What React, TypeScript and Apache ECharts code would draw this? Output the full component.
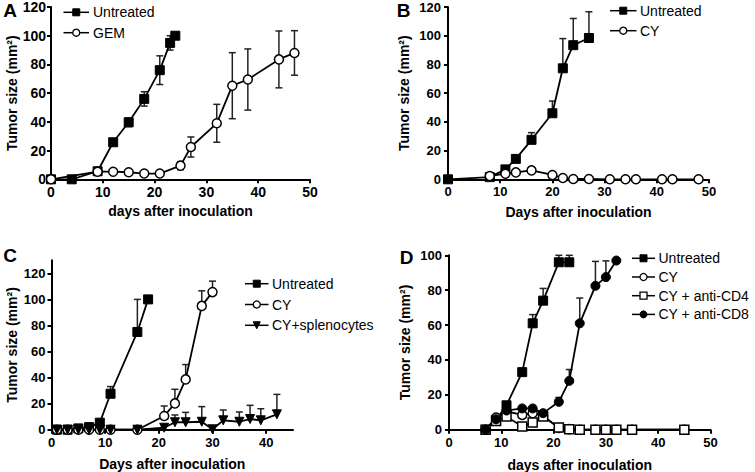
import React, { useEffect, useRef } from "react";
import * as echarts from "echarts";

// ---------- Panel A ----------
const aUntreatedDays = [0, 4, 9, 12, 15, 18, 21, 23, 24];
const aUntreatedVals = [0, 0, 5.6, 25.8, 39.7, 56, 76, 95, 100];
const aUntreatedErr = [0, 0, 0, 1, 3, 5, 10, 5, 0];
const aGemDays = [0, 9, 12, 15, 18, 21, 25, 27, 32, 35, 38, 44, 47];
const aGemVals = [0, 5.3, 5.3, 4.9, 4, 4, 9.5, 22.5, 39, 65.2, 69.5, 83.5, 88];
const aGemErr = [0, 0, 0, 0, 0, 0, 2.8, 7, 13.2, 23, 21.3, 19.8, 15.5];

// ---------- Panel B ----------
const bUntreatedDays = [0, 8, 11, 13, 16, 20, 22, 24, 27];
const bUntreatedVals = [0, 1.5, 6.9, 14.2, 27.5, 46, 77.3, 93.4, 98.4];
const bUntreatedErr = [0, 0, 0, 0, 5, 8.5, 20.7, 18.6, 18.3];
const bCyDays = [8, 11, 13, 16, 20, 22, 24, 27, 31, 34, 36, 41, 43, 48];
const bCyVals = [2.3, 3.9, 4.8, 6.2, 3, 0.9, 0.2, 0.2, 0, 0, 0, 0, 0, 0];

// ---------- Panel C ----------
const cUntreatedDays = [1, 3, 5, 7, 9, 11, 16, 18];
const cUntreatedVals = [0, 0, 1, 2, 5.4, 27.6, 75, 100];
const cUntreatedErr = [0, 0, 0, 0, 0, 5.5, 25, 0];
const cCyDays = [1, 3, 5, 7, 9, 11, 16, 21, 23, 25, 28, 30];
const cCyVals = [0, 0, 0, 0, 0, 0, 0, 10.5, 20.2, 38.6, 95, 105.6];
const cCyErr = [0, 0, 0, 0, 0, 0, 0, 7.7, 10.8, 11.4, 11.6, 8.4];
const cSplDays = [1, 3, 5, 7, 9, 11, 16, 21, 23, 25, 28, 30, 32, 35, 37, 39, 42];
const cSplVals = [0, 0, 0, 0, 0, 0, 0, 1.5, 5.7, 5.7, 6.1, 0.3, 7.2, 6.1, 8.2, 7.2, 11.8];
const cSplErr = [0, 0, 0, 0, 0, 0, 0, 0, 5.6, 7.6, 11.6, 0, 7.9, 7.5, 10.5, 8.9, 15.3];

// ---------- Panel D ----------
const dUntreatedDays = [7, 9, 11, 14, 16, 18, 21, 23];
const dUntreatedVals = [0, 5.5, 14, 33, 61, 74, 96, 96];
const dUntreatedErr = [0, 0, 0, 0, 5, 7, 4, 4];
const dCyDays = [7, 9, 11, 14, 16, 18, 21, 23, 25, 28, 30, 32, 35, 45];
const dCyVals = [0, 7, 10.5, 8.5, 9.5, 8, 1, 0.3, 0, 0, 0, 0, 0, 0];
const dCd4Days = [7, 9, 11, 14, 16, 18, 21, 23, 25, 28, 30, 32, 35, 45];
const dCd4Vals = [0, 5, 7.5, 1.8, 4.2, 7.5, 1.2, 0.2, 0, 0, 0, 0, 0, 0];
const dCd8Days = [7, 9, 11, 14, 16, 18, 21, 23, 25, 28, 30, 32];
const dCd8Vals = [0, 6, 11, 12.2, 12.2, 9.5, 16, 28, 61, 82.5, 87.5, 97];
const dCd8Err = [0, 0, 0, 0, 0, 0, 2.5, 6.5, 14.5, 14, 9.3, 0];

const legendA = ["Untreated", "GEM"];
const legendB = ["Untreated", "CY"];
const legendC = ["Untreated", "CY", "CY+splenocytes"];
const legendD = ["Untreated", "CY", "CY + anti-CD4", "CY + anti-CD8"];

const yTicks120 = [0, 20, 40, 60, 80, 100, 120];
const yTicks100 = [0, 20, 40, 60, 80, 100];
const xTicks50 = [0, 10, 20, 30, 40, 50];
const xTicks40 = [0, 10, 20, 30, 40];

const FONT = '"Liberation Sans", Arial, Helvetica, sans-serif';

const STYLES: Record<string, any> = {
  filledSquare: { symbol: "rect", itemStyle: { color: "#000", borderColor: "#000", borderWidth: 1 } },
  openCircle: { symbol: "circle", itemStyle: { color: "#fff", borderColor: "#000", borderWidth: 1.5 } },
  openSquare: { symbol: "rect", itemStyle: { color: "#fff", borderColor: "#000", borderWidth: 1.5 } },
  filledCircle: { symbol: "circle", itemStyle: { color: "#000", borderColor: "#000", borderWidth: 1 } },
  triDown: { symbol: "triangle", symbolRotate: 180, itemStyle: { color: "#000", borderColor: "#000", borderWidth: 1 } },
};

function lineSeries(name: string, idx: number, days: number[], vals: number[], style: string) {
  return {
    type: "line",
    name,
    xAxisIndex: idx,
    yAxisIndex: idx,
    data: days.map((d, i) => [d, vals[i]]),
    symbolSize: 9,
    ...STYLES[style],
    lineStyle: { color: "#000", width: 1.8 },
    z: 3,
    clip: false,
    emphasis: { disabled: true },
  };
}

function errSeries(idx: number, days: number[], vals: number[], errs: number[], both: boolean) {
  return {
    type: "custom",
    xAxisIndex: idx,
    yAxisIndex: idx,
    z: 1,
    silent: true,
    clip: false,
    data: days.map((d, i) => [d, vals[i], errs[i]]).filter((r) => r[2] > 0),
    encode: { x: 0, y: 1 },
    renderItem: (_p: any, api: any) => {
      const x = api.value(0);
      const y = api.value(1);
      const e = api.value(2);
      const top = api.coord([x, y + e]);
      const mid = api.coord([x, y]);
      const bot = api.coord([x, y - e]);
      const hw = 3.5;
      const st = { stroke: "#222", lineWidth: 1.5 };
      const children: any[] = [
        { type: "line", shape: { x1: top[0], y1: top[1], x2: mid[0], y2: mid[1] }, style: st },
        { type: "line", shape: { x1: top[0] - hw, y1: top[1], x2: top[0] + hw, y2: top[1] }, style: st },
      ];
      if (both) {
        children.push({ type: "line", shape: { x1: mid[0], y1: mid[1], x2: bot[0], y2: bot[1] }, style: st });
        children.push({ type: "line", shape: { x1: bot[0] - hw, y1: bot[1], x2: bot[0] + hw, y2: bot[1] }, style: st });
      }
      return { type: "group", children };
    },
  };
}

function xAxis(idx: number, max: number, ticks: number[], name: string, gap: number, fs: number) {
  return {
    type: "value",
    gridIndex: idx,
    min: 0,
    max,
    interval: 10,
    name,
    nameLocation: "middle",
    nameGap: gap,
    nameTextStyle: { fontFamily: FONT, fontWeight: "bold", fontSize: 14, color: "#000" },
    axisLine: { onZero: false, lineStyle: { color: "#000", width: 2 } },
    axisTick: { show: true, length: 4, lineStyle: { color: "#000", width: 2 }, customValues: ticks },
    axisLabel: { margin: 6, fontFamily: FONT, fontWeight: "bold", fontSize: fs, color: "#000", customValues: ticks },
    splitLine: { show: false },
  };
}

function yAxis(idx: number, max: number, ticks: number[], gap: number, fs: number, margin: number) {
  return {
    type: "value",
    gridIndex: idx,
    min: 0,
    max,
    interval: 20,
    name: "Tumor size (mm²)",
    nameLocation: "middle",
    nameRotate: 90,
    nameGap: gap,
    nameTextStyle: { fontFamily: FONT, fontWeight: "bold", fontSize: 14, color: "#000" },
    axisLine: { onZero: false, lineStyle: { color: "#000", width: 2 } },
    axisTick: { show: true, length: 4, lineStyle: { color: "#000", width: 2 }, customValues: ticks },
    axisLabel: { margin, fontFamily: FONT, fontWeight: "bold", fontSize: fs, color: "#000", customValues: ticks },
    splitLine: { show: false },
  };
}

function marker(style: string, cx: number, cy: number): any {
  const s = 7;
  const black = { fill: "#000", stroke: "#000", lineWidth: 1 };
  const open = { fill: "#fff", stroke: "#000", lineWidth: 1.3 };
  switch (style) {
    case "filledSquare":
      return { type: "rect", shape: { x: cx - s / 2, y: cy - s / 2, width: s, height: s }, style: black };
    case "openSquare":
      return { type: "rect", shape: { x: cx - s / 2, y: cy - s / 2, width: s, height: s }, style: open };
    case "openCircle":
      return { type: "circle", shape: { cx, cy, r: s / 2 }, style: open };
    case "filledCircle":
      return { type: "circle", shape: { cx, cy, r: s / 2 }, style: black };
    default:
      return {
        type: "polygon",
        shape: { points: [[cx - s / 2, cy - s / 2], [cx + s / 2, cy - s / 2], [cx, cy + s / 2]] },
        style: black,
      };
  }
}

function drawLegend(names: string[], styles: string[], x0: number, y0: number, step: number, len: number, textX: number) {
  const els: any[] = [];
  names.forEach((n, i) => {
    const y = y0 + i * step;
    els.push({ type: "line", shape: { x1: x0, y1: y, x2: x0 + len, y2: y }, style: { stroke: "#000", lineWidth: 1.5 } });
    els.push(marker(styles[i], x0 + len / 2, y));
    els.push({
      type: "text",
      x: textX,
      y,
      style: { text: n, font: `14px ${FONT}`, fill: "#000", align: "left", verticalAlign: "middle" },
    });
  });
  return els;
}

function letter(text: string, x: number, y: number) {
  return {
    type: "text",
    x,
    y,
    style: { text, font: `bold 19px ${FONT}`, fill: "#000", align: "center", verticalAlign: "middle" },
  };
}

export default function App() {
  const ref = useRef<HTMLDivElement>(null);
  useEffect(() => {
    if (!ref.current) return;
    const chart = echarts.init(ref.current, undefined, { renderer: "svg" });
    const option: any = {
      animation: false,
      backgroundColor: "#fff",
      grid: [
        { left: 51, top: 7, width: 259, height: 172.3, outerBoundsMode: "none" },
        { left: 448, top: 7, width: 261, height: 172.3, outerBoundsMode: "none" },
        { left: 51.5, top: 260.3, width: 241.5, height: 169.4, outerBoundsMode: "none" },
        { left: 449, top: 255.3, width: 261.5, height: 174.4, outerBoundsMode: "none" },
      ],
      xAxis: [
        xAxis(0, 50, xTicks50, "days after inoculation", 25, 14),
        xAxis(1, 50, xTicks50, "Days after inoculation", 26, 13),
        xAxis(2, 45, xTicks40, "Days after inoculation", 27, 13),
        xAxis(3, 50, xTicks50, "days after inoculation", 28, 13),
      ],
      yAxis: [
        yAxis(0, 120, yTicks120, 32, 14, 5),
        yAxis(1, 120, yTicks120, 37, 13, 7),
        yAxis(2, 130, yTicks120, 33, 13, 6),
        yAxis(3, 100, yTicks100, 37, 13, 7),
      ],
      graphic: [
        letter("A", 10, 10),
        letter("B", 403.5, 10),
        letter("C", 10, 255),
        letter("D", 406.5, 257.7),
        ...drawLegend(legendA, ["filledSquare", "openCircle"], 63.5, 12.3, 20.4, 25.5, 93),
        ...drawLegend(legendB, ["filledSquare", "openCircle"], 610, 10.7, 20, 26.5, 640),
        ...drawLegend(legendC, ["filledSquare", "openCircle", "triDown"], 245, 283.7, 20.8, 23.5, 272),
        ...drawLegend(legendD, ["filledSquare", "openCircle", "openSquare", "filledCircle"], 632, 258.3, 18.7, 23, 658.5),
      ],
      series: [
        errSeries(0, aUntreatedDays, aUntreatedVals, aUntreatedErr, true),
        errSeries(0, aGemDays, aGemVals, aGemErr, true),
        lineSeries("Untreated", 0, aUntreatedDays, aUntreatedVals, "filledSquare"),
        lineSeries("GEM", 0, aGemDays, aGemVals, "openCircle"),

        errSeries(1, bUntreatedDays, bUntreatedVals, bUntreatedErr, false),
        lineSeries("Untreated", 1, bUntreatedDays, bUntreatedVals, "filledSquare"),
        lineSeries("CY", 1, bCyDays, bCyVals, "openCircle"),

        errSeries(2, cUntreatedDays, cUntreatedVals, cUntreatedErr, false),
        errSeries(2, cCyDays, cCyVals, cCyErr, false),
        errSeries(2, cSplDays, cSplVals, cSplErr, false),
        lineSeries("Untreated", 2, cUntreatedDays, cUntreatedVals, "filledSquare"),
        lineSeries("CY", 2, cCyDays, cCyVals, "openCircle"),
        lineSeries("CY+splenocytes", 2, cSplDays, cSplVals, "triDown"),

        errSeries(3, dUntreatedDays, dUntreatedVals, dUntreatedErr, false),
        errSeries(3, dCd8Days, dCd8Vals, dCd8Err, false),
        lineSeries("Untreated", 3, dUntreatedDays, dUntreatedVals, "filledSquare"),
        lineSeries("CY", 3, dCyDays, dCyVals, "openCircle"),
        lineSeries("CY + anti-CD4", 3, dCd4Days, dCd4Vals, "openSquare"),
        lineSeries("CY + anti-CD8", 3, dCd8Days, dCd8Vals, "filledCircle"),
      ],
    };
    chart.setOption(option);
    return () => chart.dispose();
  }, []);
  return (
    <div
      ref={ref}
      style={{ position: "fixed", left: 0, top: 0, width: 755, height: 472, background: "#fff" }}
    />
  );
}
